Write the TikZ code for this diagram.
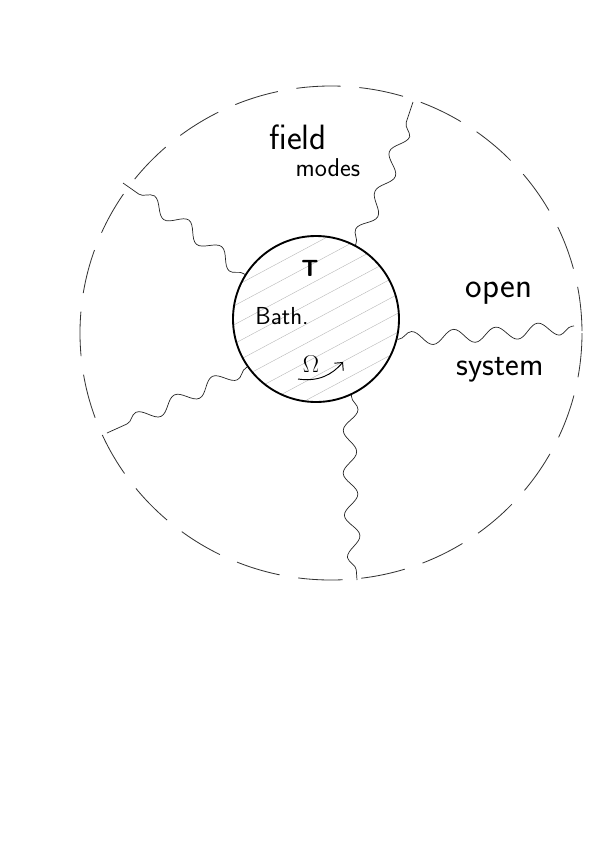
\documentclass[tikz,border=0pt]{standalone}
\usetikzlibrary{decorations.pathmorphing,arrows.meta}
\begin{document}
\begin{tikzpicture}[x=0.03cm,y=-0.03cm,
  wavy/.style={draw=black!85, line width=0.6pt, decorate,
    decoration={snake, segment length=36pt, amplitude=6pt, pre length=1pt, post length=1pt}},
  outerdash/.style={draw=black!80, line width=0.7pt, dash pattern=on 38pt off 16pt},
  hatch/.style={draw=black!30, line width=0.3pt},
  lbl/.style={font=\sffamily, inner sep=0pt}]
\useasboundingbox (0,0) rectangle (600,857);
\fill[white] (0,0) rectangle (600,857);
% outer dashed boundary
\coordinate (oc) at (331,333);
\draw[outerdash] (oc) ellipse [x radius=251, y radius=247];
% hatching of the bath
\begin{scope}
  \clip (316,319) circle [radius=83];
  \foreach \i in {-8,...,8} {
    \draw[hatch] (200,{319+\i*19+62}) -- (432,{319+\i*19-62});
  }
\end{scope}
% bath
\node[circle, draw, line width=1.6pt, minimum size=4.98cm, inner sep=0pt] (bath) at (316,319) {};
% end points of field modes
\coordinate (e1) at (413,102);
\coordinate (e2) at (123,183);
\coordinate (e3) at (574,326);
\coordinate (e4) at (107,433);
\coordinate (e5) at (357,580);
% field modes
\draw[wavy] (bath.62) -- (380,197) -- (397,150) -- (e1);
\draw[wavy] (bath.148) -- (190,230) -- (e2);
\draw[wavy] (bath.-14) -- (480,335) -- (e3);
\draw[wavy] (bath.215) -- (180,400) -- (e4);
\draw[wavy] (bath.295) -- (350,440) -- (352,510) -- (e5);
% labels
\node[lbl, font=\sffamily\fontsize{30}{30}\selectfont] (field) at (298,137) {f{}ield};
\node[lbl, font=\sffamily\fontsize{22}{22}\selectfont] (modes) at (328,168) {modes};
\node[lbl, font=\sffamily\fontsize{30}{30}\selectfont] (open) at (499,293) {open};
\node[lbl, font=\sffamily\fontsize{28}{28}\selectfont] (system) at (500,370) {system};
\node[lbl, font=\sffamily\fontsize{21}{21}\selectfont] (bathlbl) at (282,316) {Bath.};
\node[lbl, font=\sffamily\bfseries\fontsize{20}{20}\selectfont] (T) at (310,268) {T};
\node[lbl, font=\fontsize{20}{20}\selectfont] (Om) at (311,364) {$\Omega$};
\coordinate (a1) at (298,379);
\coordinate (a2) at (343,362);
\draw[line width=0.8pt, -{Straight Barb[length=5pt]}] (a1) .. controls (318,382) and (332,375) .. (a2);
\end{tikzpicture}
\end{document}
